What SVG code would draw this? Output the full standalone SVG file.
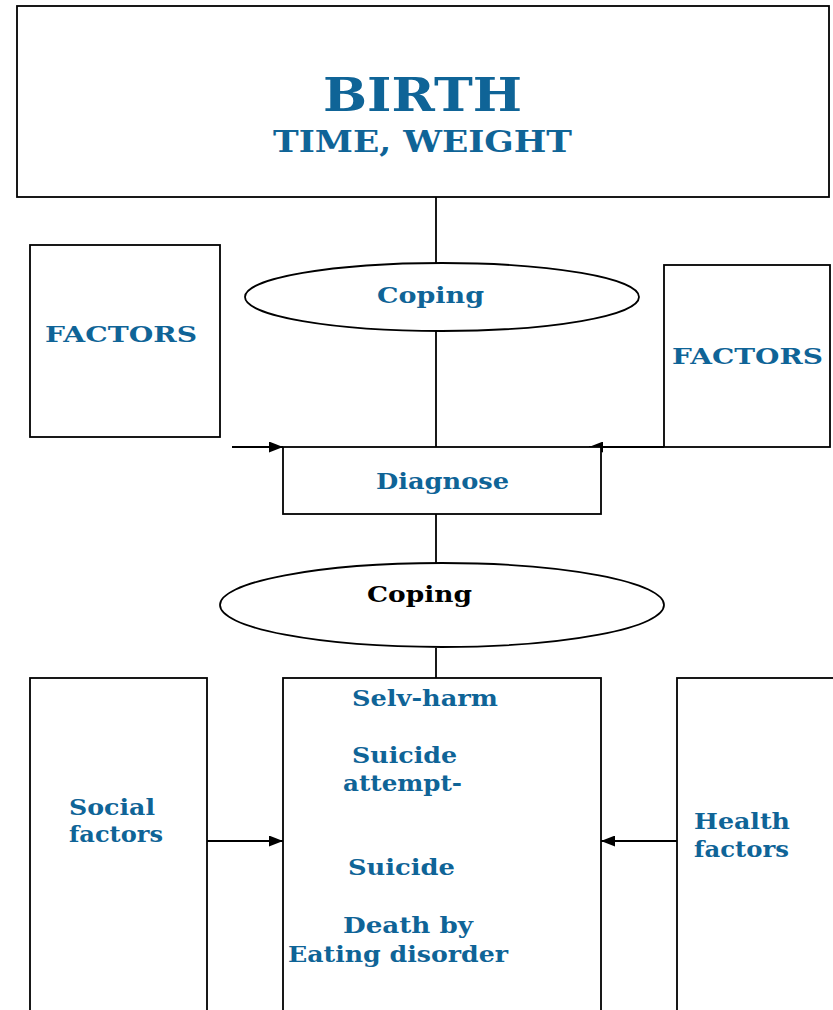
<svg xmlns="http://www.w3.org/2000/svg" width="833" height="1010" viewBox="0 0 833 1010">
<style>
.box{fill:#fff;stroke:#000;stroke-width:1.8}
.ln{stroke:#000;stroke-width:1.8;fill:none}
.t{font-family:"DejaVu Serif","Liberation Serif",serif;font-weight:bold;fill:#0f6497;font-size:22px}
.k{fill:#000}
.big{font-size:46px}
.sub{font-size:30px}
</style>
<defs>
<marker id="ah" viewBox="0 0 14 11" refX="14" refY="5.5" markerWidth="14" markerHeight="11" markerUnits="userSpaceOnUse" orient="auto">
<path d="M0,0 L14,5.5 L0,11 Z" fill="#000"/>
</marker>
</defs>
<rect width="833" height="1010" fill="#fff"/>
<g id="connectors">
<line class="ln" x1="436" y1="197" x2="436" y2="263"/>
<line class="ln" x1="436" y1="331" x2="436" y2="447"/>
<line class="ln" x1="232" y1="447" x2="283" y2="447" marker-end="url(#ah)"/>
<line class="ln" x1="664" y1="447" x2="589" y2="447" marker-end="url(#ah)"/>
<line class="ln" x1="436" y1="514" x2="436" y2="563"/>
<line class="ln" x1="436" y1="648" x2="436" y2="678"/>
<line class="ln" x1="207" y1="841" x2="283" y2="841" marker-end="url(#ah)"/>
<line class="ln" x1="677" y1="841" x2="601" y2="841" marker-end="url(#ah)"/>
</g>
<g id="birth">
<rect class="box" x="17" y="6" width="812" height="191"/>
<text class="t big" x="323" y="111" textLength="199" lengthAdjust="spacingAndGlyphs">BIRTH</text>
<text class="t sub" x="273" y="152" textLength="299" lengthAdjust="spacingAndGlyphs">TIME, WEIGHT</text>
</g>
<g id="coping1">
<ellipse class="box" cx="442" cy="297" rx="197" ry="34"/>
<text class="t" x="377" y="303" textLength="107" lengthAdjust="spacingAndGlyphs">Coping</text>
</g>
<g id="factors-left">
<rect class="box" x="30" y="245" width="190" height="192"/>
<text class="t" x="45" y="342" textLength="152" lengthAdjust="spacingAndGlyphs">FACTORS</text>
</g>
<g id="factors-right">
<rect class="box" x="664" y="265" width="166" height="182"/>
<text class="t" x="672" y="364" textLength="151" lengthAdjust="spacingAndGlyphs">FACTORS</text>
</g>
<g id="diagnose">
<rect class="box" x="283" y="447" width="318" height="67"/>
<text class="t" x="376" y="489" textLength="133" lengthAdjust="spacingAndGlyphs">Diagnose</text>
</g>
<g id="coping2">
<ellipse class="box" cx="442" cy="605" rx="222" ry="42"/>
<text class="t k" x="367" y="602" textLength="105" lengthAdjust="spacingAndGlyphs">Coping</text>
</g>
<g id="social">
<rect class="box" x="30" y="678" width="177" height="340"/>
<text class="t" x="69" y="815" textLength="86" lengthAdjust="spacingAndGlyphs">Social</text>
<text class="t" x="69" y="842" textLength="94" lengthAdjust="spacingAndGlyphs">factors</text>
</g>
<g id="outcomes">
<rect class="box" x="283" y="678" width="318" height="340"/>
<text class="t" x="352" y="706" textLength="146" lengthAdjust="spacingAndGlyphs">Selv-harm</text>
<text class="t" x="352" y="763" textLength="105" lengthAdjust="spacingAndGlyphs">Suicide</text>
<text class="t" x="343" y="791" textLength="119" lengthAdjust="spacingAndGlyphs">attempt-</text>
<text class="t" x="348" y="875" textLength="107" lengthAdjust="spacingAndGlyphs">Suicide</text>
<text class="t" x="343" y="933" textLength="130" lengthAdjust="spacingAndGlyphs">Death by</text>
<text class="t" x="288" y="962" textLength="220" lengthAdjust="spacingAndGlyphs">Eating disorder</text>
</g>
<g id="health">
<rect class="box" x="677" y="678" width="170" height="340"/>
<text class="t" x="694" y="829" textLength="96" lengthAdjust="spacingAndGlyphs">Health</text>
<text class="t" x="694" y="857" textLength="95" lengthAdjust="spacingAndGlyphs">factors</text>
</g>
</svg>
